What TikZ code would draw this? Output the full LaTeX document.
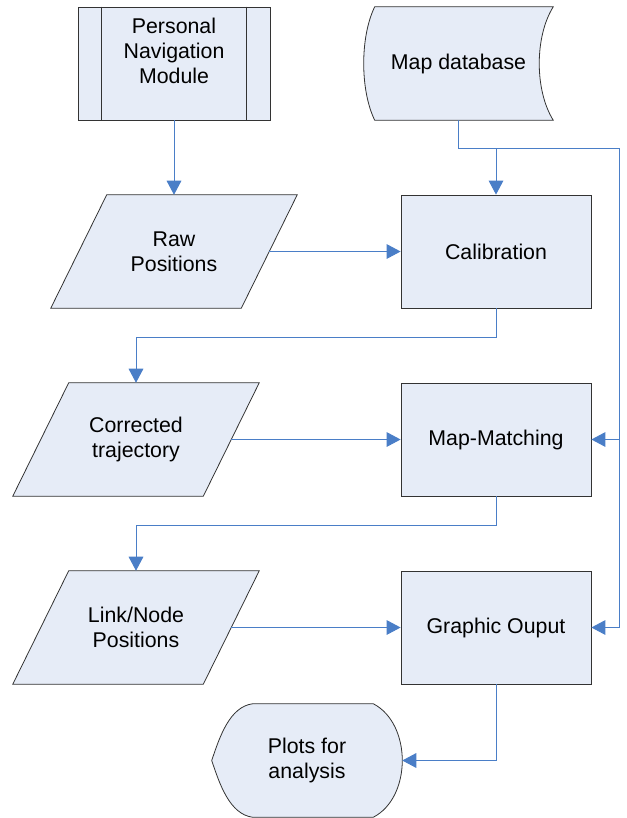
\documentclass[tikz,border=0pt]{standalone}
\usepackage{fontspec}
\setmainfont{Liberation Sans}
\usetikzlibrary{arrows.meta}
\usetikzlibrary{backgrounds,calc}

\definecolor{boxfill}{HTML}{E6ECF7}
\definecolor{flowblue}{HTML}{4A7EC7}

\begin{document}
\begin{tikzpicture}[
		x=0.75pt, y=-0.75pt,
		>={Triangle[length=10.5pt,width=11pt]},
		node distance=141pt,
		font=\fontsize{16}{18.75}\selectfont,
		main node/.style={align=center, minimum width=142.5pt, minimum height=84.75pt, inner sep=0pt}
		,
		proc node/.style={
			main node,
			rectangle,
			draw=black!80,
			fill=boxfill,
			line width=0.6pt
		},
		shape line/.style={draw=black!80, fill=boxfill, line width=0.6pt},
		flow/.style={->, draw=flowblue, line width=0.75pt}
		]
		\useasboundingbox (0,0) rectangle (627,818);
		
		\node[proc node, minimum width=144pt] (pnm) at (174,63.5) {Personal\\Navigation\\Module\\~};
		\node[main node] (raw) [below of=pnm] {Raw\\Positions};
		\node[main node, minimum width=141.75pt] (mapdb) at (458.5,63.5) {Map database};
		\node[proc node] (calib) at (496,251.5) {Calibration};
		\node[proc node] (mm) [below of=calib] {Map-Matching};
		\node[proc node] (go) [below of=mm] {Graphic Ouput};
		\node[main node] (corr) at (136,439.5) {Corrected\\trajectory};
		\node[main node] (link) [below of=corr] {Link/Node\\Positions};
		\node[main node] (plots) at (307,760.5) {Plots for\\analysis};
		
		\draw[black!80, line width=0.6pt] ([xshift=18pt]pnm.north west) -- ([xshift=18pt]pnm.south west);
		\draw[black!80, line width=0.6pt] ([xshift=-18pt]pnm.north east) -- ([xshift=-18pt]pnm.south east);
		
		\begin{scope}[on background layer]
			% data (parallelograms)
			\foreach \n in {raw,corr,link}
			\path[shape line] ($(\n.north west)+(28,0)$) -- ($(\n.north east)+(28,0)$)
			-- ($(\n.south east)+(-28,0)$) -- ($(\n.south west)+(-28,0)$) -- cycle;
			% stored data
			\path[shape line] ($(mapdb.north west)+(11,0)$) -- (mapdb.north east)
			.. controls +(-18.7,30) and +(-18.7,-30) .. (mapdb.south east)
			-- ($(mapdb.south west)+(11,0)$)
			.. controls +(-14.7,-30) and +(-14.7,30) .. ($(mapdb.north west)+(11,0)$) -- cycle;
			% display
			\path[shape line] ($(plots.north west)+(41,0)$) -- ($(plots.north east)+(-29,0)$)
			.. controls +(38.7,20) and +(38.7,-20) .. ($(plots.south east)+(-29,0)$)
			-- ($(plots.south west)+(41,0)$)
			.. controls +(-23,-3) and +(8,24) .. (plots.west)
			.. controls +(8,-24) and +(-23,3) .. ($(plots.north west)+(41,0)$) -- cycle;
		\end{scope}
		
		\coordinate (bus) at ($(mapdb.south)+(160.5,28)$);
		
		\draw[flow] (pnm) -- (raw);
		\draw[flow] (raw.east) -- (calib.west);
		\draw[flow] (corr.east) -- (mm.west);
		\draw[flow] (link.east) -- (go.west);
		\draw[flow] (mapdb.south) -- ++(0,28) -| (calib.north);
		\draw[flow] (mapdb.south) |- (bus) |- (mm.east);
		\draw[flow] (bus) |- (go.east);
		\draw[flow] (calib.south) -- ++(0,29) -| (corr.north);
		\draw[flow] (mm.south) -- ++(0,29) -| (link.north);
		\draw[flow] (go.south) |- (plots.east);
	\end{tikzpicture}
\end{document}
